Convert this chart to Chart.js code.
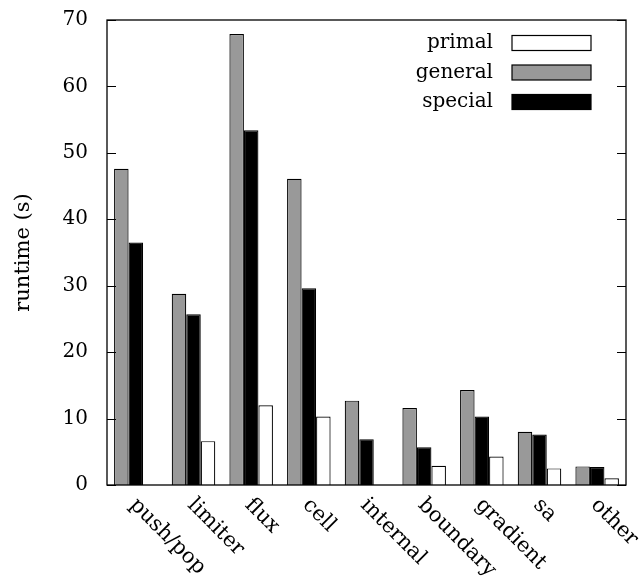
<!DOCTYPE html>
<html>
<head>
<meta charset="utf-8">
<script src="https://cdn.jsdelivr.net/npm/chart.js@4.4.1/dist/chart.umd.min.js"></script>
<style>
  html, body { margin: 0; padding: 0; background: #fff; }
  #wrap { width: 642px; height: 582px; }
</style>
</head>
<body>
<div id="wrap"><canvas id="runtimeChart" width="642" height="582"></canvas></div>
<script>
const categories = ['push/pop', 'limiter', 'flux', 'cell', 'internal', 'boundary', 'gradient', 'sa', 'other'];
const general = [47.6, 28.8, 67.9, 46.1, 12.7, 11.6, 14.3, 8.0, 2.8];
const special = [36.5, 25.7, 53.4, 29.6, 6.9, 5.7, 10.3, 7.6, 2.7];
const primal = [null, 6.6, 12.0, 10.3, null, 2.9, 4.3, 2.5, 1.0];
const yTicks = [0, 10, 20, 30, 40, 50, 60, 70];
const legendOrder = ['primal', 'general', 'special'];

const FONT = "'DejaVu Serif', serif";

// frame, inward ticks on both sides, rotated x labels and the legend box
const gnuplotLook = {
    id: 'gnuplotLook',
    afterDraw(chart) {
        const ctx = chart.ctx;
        const a = chart.chartArea;
        const y = chart.scales.y, x = chart.scales.x;
        ctx.save();
        ctx.strokeStyle = '#000';
        ctx.lineWidth = 1.3;
        ctx.strokeRect(a.left, a.top, a.right - a.left, a.bottom - a.top);

        ctx.beginPath();
        yTicks.forEach(v => {
            const py = Math.round(y.getPixelForValue(v)) + 0.5;
            ctx.moveTo(a.left, py); ctx.lineTo(a.left + 9, py);
            ctx.moveTo(a.right, py); ctx.lineTo(a.right - 9, py);
        });
        ctx.lineWidth = 1;
        ctx.stroke();

        ctx.fillStyle = '#000';
        ctx.font = '21px ' + FONT;
        ctx.textAlign = 'left';
        ctx.textBaseline = 'middle';
        categories.forEach((c, i) => {
            const px = x.getPixelForValue(i);
            ctx.save();
            ctx.translate(px - 3, a.bottom + 17);
            ctx.rotate(Math.PI / 4);
            ctx.fillText(c, 0, 0);
            ctx.restore();
        });

        ctx.font = '20px ' + FONT;
        ctx.textAlign = 'right';
        legendOrder.forEach((name, i) => {
            const ds = chart.data.datasets.find(d => d.label === name);
            const cy = 43 + i * 29.5;
            ctx.fillStyle = '#000';
            ctx.fillText(name, 493, cy);
            ctx.fillStyle = ds.backgroundColor;
            ctx.fillRect(512, cy - 7.5, 79, 15);
            ctx.strokeStyle = '#000';
            ctx.lineWidth = 1.2;
            ctx.strokeRect(512, cy - 7.5, 79, 15);
        });
        ctx.restore();
    }
};

function initChart() {
    const ctx = document.getElementById('runtimeChart').getContext('2d');
    const bar = { borderColor: '#000', borderWidth: 1.2, categoryPercentage: 0.755, barPercentage: 1.0 };
    return new Chart(ctx, {
        type: 'bar',
        data: {
            labels: categories,
            datasets: [
                { label: 'general', data: general, backgroundColor: '#999999', ...bar },
                { label: 'special', data: special, backgroundColor: '#000000', ...bar },
                { label: 'primal', data: primal, backgroundColor: '#ffffff', ...bar }
            ]
        },
        options: {
            responsive: false,
            animation: false,
            devicePixelRatio: 1,
            layout: { padding: { top: 20, right: 16, left: 0, bottom: 0 } },
            plugins: { legend: { display: false }, tooltip: { enabled: false } },
            scales: {
                x: {
                    grid: { display: false, drawTicks: false },
                    border: { display: false },
                    ticks: { display: false },
                    afterFit: s => { s.height = 97; }
                },
                y: {
                    min: 0, max: 70,
                    grid: { display: false, drawTicks: false },
                    border: { display: false },
                    ticks: {
                        stepSize: 10, padding: 19, color: '#000',
                        font: { family: FONT, size: 20 }
                    },
                    title: {
                        display: true, text: 'runtime (s)', color: '#000',
                        font: { family: FONT, size: 21 },
                        padding: { top: 11, bottom: 0 }
                    },
                    afterFit: s => { s.width = 107; s.paddingTop = 0; s.paddingBottom = 0; }
                }
            }
        },
        plugins: [gnuplotLook]
    });
}

initChart();
</script>
</body>
</html>
